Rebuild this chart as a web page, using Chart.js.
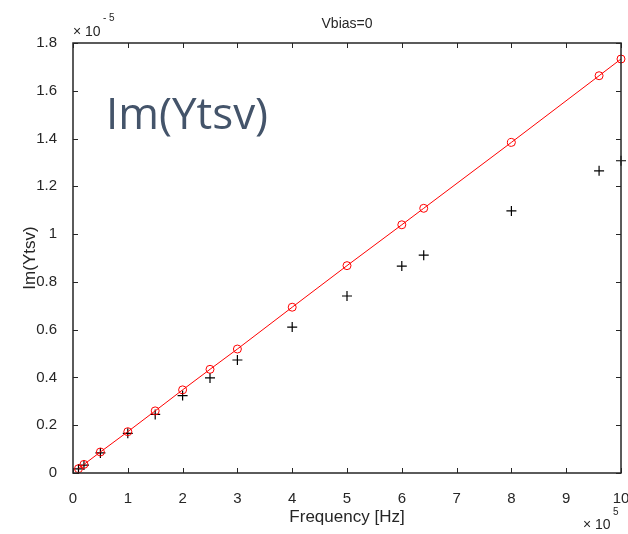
<!DOCTYPE html>
<html>
<head>
<meta charset="utf-8">
<script src="https://cdn.jsdelivr.net/npm/chart.js@4"></script>
<style>
  html, body { margin: 0; padding: 0; background: #fff; }
  #wrap { width: 628px; height: 534px; }
</style>
</head>
<body>
<div id="wrap"><canvas id="ytsvChart"></canvas></div>
<script>
// frequency in units of 1e5 Hz, admittance in units of 1e-5
const freq = [0.1, 0.2, 0.5, 1, 1.5, 2, 2.5, 3, 4, 5, 6, 6.4, 8, 9.6, 10];
const imModel = [0.018, 0.036, 0.088, 0.173, 0.26, 0.348, 0.434, 0.519, 0.694, 0.868, 1.039, 1.108, 1.384, 1.663, 1.733];
const imMeas = [0.017, 0.033, 0.084, 0.166, 0.245, 0.324, 0.398, 0.473, 0.611, 0.741, 0.866, 0.912, 1.097, 1.265, 1.307];
const xTicks = [0, 1, 2, 3, 4, 5, 6, 7, 8, 9, 10];
const yTicks = [0, 0.2, 0.4, 0.6, 0.8, 1, 1.2, 1.4, 1.6, 1.8];

const ctx = document.querySelector('#ytsvChart');
const FONT = '"Liberation Sans", Arial, sans-serif';

// matlab style frame: box on all sides, ticks pointing inward, exponents, title and note text
const matlabFrame = {
    id: 'matlabFrame',
    afterDraw(chart) {
        const c = chart.ctx;
        const a = chart.chartArea;
        const xs = chart.scales.x, ys = chart.scales.y;
        c.save();
        c.strokeStyle = '#262626';
        c.lineWidth = 1;
        c.beginPath();
        xTicks.forEach(function (t) {
            const px = Math.round(xs.getPixelForValue(t)) + 0.5;
            c.moveTo(px, a.bottom); c.lineTo(px, a.bottom - 5);
            c.moveTo(px, a.top); c.lineTo(px, a.top + 5);
        });
        yTicks.forEach(function (t) {
            const py = Math.round(ys.getPixelForValue(t)) + 0.5;
            c.moveTo(a.left, py); c.lineTo(a.left + 5, py);
            c.moveTo(a.right, py); c.lineTo(a.right - 5, py);
        });
        c.stroke();
        c.lineWidth = 1.5;
        c.strokeRect(a.left, a.top, a.right - a.left, a.bottom - a.top);

        c.fillStyle = '#262626';
        c.textBaseline = 'middle';
        c.textAlign = 'left';
        c.font = '14px ' + FONT;
        c.fillText('\u00d7 10', a.left, a.top - 11);
        c.fillText('\u00d7 10', a.right - 38, chart.height - 9);
        c.font = '10px ' + FONT;
        c.fillText('- 5', a.left + 30, a.top - 25);
        c.fillText('5', a.right - 8, chart.height - 22);

        c.font = '14px ' + FONT;
        c.textAlign = 'center';
        c.fillText('Vbias=0', (a.left + a.right) / 2, 24);

        c.fillStyle = '#44546a';
        c.font = '44px "Open Sans", sans-serif';
        c.textAlign = 'left';
        c.textBaseline = 'alphabetic';
        c.fillText('Im(Ytsv)', xs.getPixelForValue(0.6), ys.getPixelForValue(1.44));
        c.restore();
    }
};

new Chart(ctx, {
    type: 'scatter',
    data: {
        datasets: [{
            label: 'model',
            data: freq.map(function (f, i) { return {x: f, y: imModel[i]}; }),
            showLine: true,
            clip: false,
            borderColor: '#ff0000',
            borderWidth: 1,
            pointStyle: 'circle',
            pointRadius: 4,
            pointBorderColor: '#ff0000',
            pointBackgroundColor: 'rgba(0,0,0,0)',
            pointBorderWidth: 1
        }, {
            label: 'measured',
            data: freq.map(function (f, i) { return {x: f, y: imMeas[i]}; }),
            showLine: false,
            clip: false,
            pointStyle: 'cross',
            pointRadius: 5,
            pointBorderColor: '#000',
            pointBorderWidth: 1.2
        }]
    },
    options: {
        responsive: true,
        maintainAspectRatio: false,
        animation: false,
        layout: { padding: { top: 43, right: 7, left: 0, bottom: 0 } },
        plugins: {
            legend: { display: false },
            tooltip: { enabled: false },
            title: { display: false }
        },
        scales: {
            x: {
                type: 'linear',
                min: 0, max: 10,
                afterFit: function (s) { s.height = 61; s.paddingLeft = 0; s.paddingRight = 0; },
                afterBuildTicks: function (s) { s.ticks = xTicks.map(function (v) { return {value: v}; }); },
                grid: { display: false },
                border: { display: false },
                ticks: { padding: 9, color: '#262626', font: { family: FONT, size: 15 }, maxRotation: 0 },
                title: { display: true, text: 'Frequency [Hz]', color: '#262626',
                         font: { family: FONT, size: 17 }, padding: { top: 0, bottom: 6 } }
            },
            y: {
                type: 'linear',
                min: 0, max: 1.8,
                afterFit: function (s) { s.width = 73; s.paddingTop = 0; s.paddingBottom = 0; },
                afterBuildTicks: function (s) { s.ticks = yTicks.map(function (v) { return {value: v}; }); },
                grid: { display: false },
                border: { display: false },
                ticks: { padding: 8, color: '#262626', font: { family: FONT, size: 15 },
                         callback: function (v) { return String(Math.round(v * 10) / 10); } },
                title: { display: true, text: 'Im(Ytsv)', color: '#262626',
                         font: { family: FONT, size: 17 }, padding: { top: 20, bottom: 0 } }
            }
        }
    },
    plugins: [matlabFrame]
});
</script>
</body>
</html>
